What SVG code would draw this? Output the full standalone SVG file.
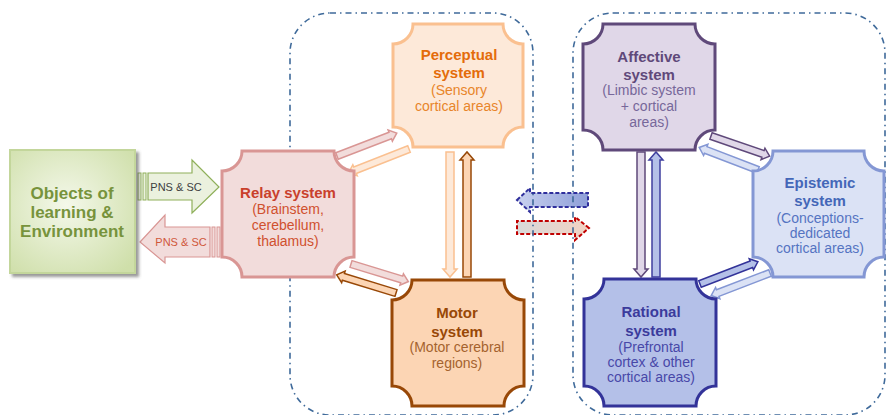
<svg xmlns="http://www.w3.org/2000/svg" width="891" height="415" viewBox="0 0 891 415">
  <defs>
    <radialGradient id="gEnv" cx="0.45" cy="0.45" r="0.7">
      <stop offset="0" stop-color="#f4f8ea"/>
      <stop offset="1" stop-color="#cfdfaa"/>
    </radialGradient>
    <linearGradient id="gBlueMid" x1="0" y1="0" x2="1" y2="0">
      <stop offset="0" stop-color="#c9d1ef"/>
      <stop offset="1" stop-color="#8e9fd8"/>
    </linearGradient>
    <linearGradient id="gRedMid" x1="0" y1="0" x2="1" y2="0">
      <stop offset="0" stop-color="#d9d9d9"/>
      <stop offset="1" stop-color="#f2d2c2"/>
    </linearGradient>
    <filter id="shadow" x="-10%" y="-10%" width="130%" height="130%">
      <feDropShadow dx="3" dy="3" stdDeviation="1.5" flood-color="#555" flood-opacity="0.6"/>
    </filter>
  </defs>
  <style>
    .t { font-family: "Liberation Sans", Arial, sans-serif; text-anchor: middle; }
    .ttl { font-size: 15px; font-weight: bold; }
    .sub { font-size: 14px; }
    .env { font-size: 17px; font-weight: bold; fill: #77933c; }
    .pns { font-size: 11px; }
    .box { stroke-width: 3; }
    .link { stroke-width: 1.5; stroke-linejoin: miter; }
    .zone { fill: none; stroke: #3f6a9a; stroke-width: 1.6; stroke-dasharray: 6 4 1.5 4; }
  </style>

  <!-- exchange arrows between the two zones -->
  <g id="exchange">
    <path d="M517,200 L530,188 V193 H588 V207 H530 V212 Z" fill="url(#gBlueMid)" stroke="#2f2f9c" stroke-width="2" stroke-dasharray="4 2"/>
    <path d="M589,228 L575,217 V221 H517 V234 H575 V240 Z" fill="url(#gRedMid)" stroke="#c00000" stroke-width="2" stroke-dasharray="4 2"/>
  </g>

  <!-- zones -->
  <g id="zones">
    <rect class="zone" x="290" y="13" width="243" height="402" rx="40" ry="40"/>
    <rect class="zone" x="573" y="13" width="312" height="402" rx="40" ry="40"/>
  </g>

  <!-- connectors -->
  <g id="connectors">
    <!-- PNS & SC, into and out of the relay system -->
    <g>
      <rect x="138" y="173" width="3" height="27" fill="#ebf1de" stroke="#8fb05a" stroke-width="1"/>
      <rect x="143" y="173" width="3" height="27" fill="#ebf1de" stroke="#8fb05a" stroke-width="1"/>
      <path d="M148,173 H192 V160 L219,187 L192,213 V200 H148 Z" fill="#ebf1de" stroke="#8fb05a" stroke-width="1.2"/>
      <text class="t pns" x="176" y="191" fill="#404040">PNS &amp; SC</text>
    </g>
    <g>
      <rect x="212" y="227" width="3" height="30" fill="#f2dcdb" stroke="#d99694" stroke-width="1"/>
      <rect x="217" y="227" width="3" height="30" fill="#f2dcdb" stroke="#d99694" stroke-width="1"/>
      <path d="M210,227 H165 V215 L140,242 L165,263 V257 H210 Z" fill="#f2dcdb" stroke="#d99694" stroke-width="1.2"/>
      <text class="t pns" x="181" y="246" fill="#d0573a">PNS &amp; SC</text>
    </g>

    <!-- relay <-> perceptual -->
    <path class="link" transform="translate(337,156) rotate(-21)" d="M0,-3.5 H57 V-6 L64,0 L57,6 V3.5 H0 Z" fill="#f2dcdb" stroke="#d99694"/>
    <path class="link" transform="translate(409,149) rotate(158.5)" d="M0,-3.5 H58 V-6 L65,0 L58,6 V3.5 H0 Z" fill="#fde9d9" stroke="#fac090"/>
    <!-- relay <-> motor -->
    <path class="link" transform="translate(351,264) rotate(17)" d="M0,-3.5 H53 V-6 L60,0 L53,6 V3.5 H0 Z" fill="#f2dcdb" stroke="#d99694"/>
    <path class="link" transform="translate(396,293) rotate(197)" d="M0,-3.5 H55 V-6 L62,0 L55,6 V3.5 H0 Z" fill="#fcd5b4" stroke="#984807"/>
    <!-- perceptual <-> motor -->
    <path class="link" d="M446,152 H454 V269 H457 L450,277 L443,269 H446 Z" fill="#fde9d9" stroke="#fac090"/>
    <path class="link" d="M463,277 H471 V160 H474 L467,152 L460,160 H463 Z" fill="#fcd5b4" stroke="#984807"/>
    <!-- affective <-> rational -->
    <path class="link" d="M637,152 H645 V269 H648 L641,277 L634,269 H637 Z" fill="#e0d7e8" stroke="#5f497a"/>
    <path class="link" d="M652,277 H660 V160 H663 L656,152 L649,160 H652 Z" fill="#b4c0e8" stroke="#3f3f9f"/>
    <!-- affective <-> epistemic -->
    <path class="link" transform="translate(711,136) rotate(19)" d="M0,-3.5 H55 V-6 L62,0 L55,6 V3.5 H0 Z" fill="#e0d7e8" stroke="#5f497a"/>
    <path class="link" transform="translate(758,170) rotate(201)" d="M0,-3.5 H56 V-6 L63,0 L56,6 V3.5 H0 Z" fill="#dbe2f5" stroke="#8497d4"/>
    <!-- rational <-> epistemic -->
    <path class="link" transform="translate(700,284) rotate(-21)" d="M0,-3.5 H55 V-6 L62,0 L55,6 V3.5 H0 Z" fill="#b4c0e8" stroke="#333399"/>
    <path class="link" transform="translate(770,273) rotate(159)" d="M0,-3.5 H56 V-6 L63,0 L56,6 V3.5 H0 Z" fill="#dbe2f5" stroke="#8497d4"/>
  </g>

  <!-- environment -->
  <g id="environment">
    <rect x="10" y="150" width="125" height="123" fill="url(#gEnv)" stroke="#c3d69b" stroke-width="2" filter="url(#shadow)"/>
    <text class="t env" x="72" y="199">Objects of</text>
    <text class="t env" x="72" y="218">learning &amp;</text>
    <text class="t env" x="72" y="237">Environment</text>
  </g>

  <!-- relay system -->
  <g id="relay">
    <path class="box" d="M242,151 H334 A20,20 0 0 0 354,171 V257 A20,20 0 0 0 334,277 H242 A20,20 0 0 0 222,257 V171 A20,20 0 0 0 242,151 Z" fill="#f2dcdb" stroke="#d99694"/>
    <text class="t ttl" x="288" y="198" fill="#c9402c">Relay system</text>
    <text class="t sub" x="288" y="214" fill="#d0502e">(Brainstem,</text>
    <text class="t sub" x="288" y="230" fill="#d0502e">cerebellum,</text>
    <text class="t sub" x="288" y="246" fill="#d0502e">thalamus)</text>
  </g>

  <!-- perceptual system -->
  <g id="perceptual">
    <path class="box" d="M413,24 H503 A20,20 0 0 0 523,44 V127 A20,20 0 0 0 503,147 H413 A20,20 0 0 0 393,127 V44 A20,20 0 0 0 413,24 Z" fill="#fde9d9" stroke="#fac090"/>
    <text class="t ttl" x="459" y="60" fill="#e46c0a">Perceptual</text>
    <text class="t ttl" x="459" y="78" fill="#e46c0a">system</text>
    <text class="t sub" x="459" y="95" fill="#e8852a">(Sensory</text>
    <text class="t sub" x="459" y="111" fill="#e8852a">cortical areas)</text>
  </g>

  <!-- motor system -->
  <g id="motor">
    <path class="box" d="M412,280 H504 A20,20 0 0 0 524,300 V386 A20,20 0 0 0 504,406 H412 A20,20 0 0 0 392,386 V300 A20,20 0 0 0 412,280 Z" fill="#fcd5b4" stroke="#984807"/>
    <text class="t ttl" x="457" y="318" fill="#984807">Motor</text>
    <text class="t ttl" x="457" y="337" fill="#984807">system</text>
    <text class="t sub" x="457" y="352" fill="#a5632e">(Motor cerebral</text>
    <text class="t sub" x="457" y="368" fill="#a5632e">regions)</text>
  </g>

  <!-- affective system -->
  <g id="affective">
    <path class="box" d="M603,24 H695 A20,20 0 0 0 715,44 V130 A20,20 0 0 0 695,150 H603 A20,20 0 0 0 583,130 V44 A20,20 0 0 0 603,24 Z" fill="#e0d7e8" stroke="#5f497a"/>
    <text class="t ttl" x="649" y="62" fill="#5f497a">Affective</text>
    <text class="t ttl" x="649" y="80" fill="#5f497a">system</text>
    <text class="t sub" x="649" y="95" fill="#77679a">(Limbic system</text>
    <text class="t sub" x="649" y="111" fill="#77679a">+ cortical</text>
    <text class="t sub" x="649" y="127" fill="#77679a">areas)</text>
  </g>

  <!-- rational system -->
  <g id="rational">
    <path class="box" d="M604,279 H696 A20,20 0 0 0 716,299 V386 A20,20 0 0 0 696,406 H604 A20,20 0 0 0 584,386 V299 A20,20 0 0 0 604,279 Z" fill="#b4c0e8" stroke="#333399"/>
    <text class="t ttl" x="651" y="317" fill="#3b3b9c">Rational</text>
    <text class="t ttl" x="651" y="336" fill="#3b3b9c">system</text>
    <text class="t sub" x="651" y="352" fill="#4848a8">(Prefrontal</text>
    <text class="t sub" x="651" y="367" fill="#4848a8">cortex &amp; other</text>
    <text class="t sub" x="651" y="382" fill="#4848a8">cortical areas)</text>
  </g>

  <!-- epistemic system -->
  <g id="epistemic">
    <path class="box" d="M773,151 H864 A20,20 0 0 0 884,171 V257 A20,20 0 0 0 864,277 H773 A20,20 0 0 0 753,257 V171 A20,20 0 0 0 773,151 Z" fill="#dbe2f5" stroke="#8497d4"/>
    <text class="t ttl" x="820" y="188" fill="#4467b8">Epistemic</text>
    <text class="t ttl" x="820" y="206" fill="#4467b8">system</text>
    <text class="t sub" x="820" y="223" fill="#5574c2">(Conceptions-</text>
    <text class="t sub" x="820" y="238" fill="#5574c2">dedicated</text>
    <text class="t sub" x="820" y="253" fill="#5574c2">cortical areas)</text>
  </g>
</svg>
